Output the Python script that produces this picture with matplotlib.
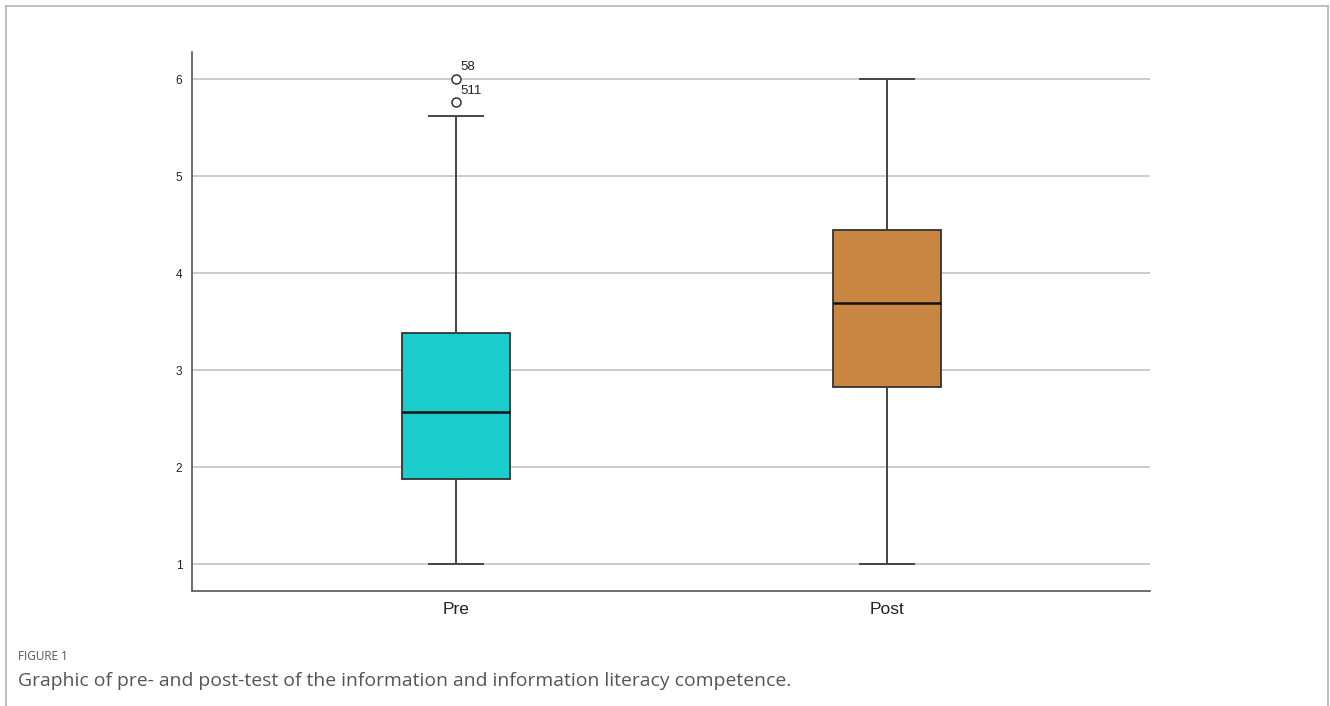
import matplotlib
matplotlib.use("Agg")
import matplotlib.pyplot as plt
from matplotlib.lines import Line2D

# -----------------------
# DATA
# -----------------------
groups = ["Pre", "Post"]
whisker_low = [1.0, 1.0]
q1 = [1.88, 2.82]
median = [2.57, 3.69]
q3 = [3.38, 4.44]
whisker_high = [5.62, 6.0]
outliers = [[6.0, 5.76], []]
outlier_ids = [["58", "511"], []]
box_colors = ["#1ccdcd", "#c98643"]

y_ticks = [1, 2, 3, 4, 5, 6]

# -----------------------
# FIGURE
# -----------------------
plt.rcParams["font.family"] = ["Liberation Sans", "DejaVu Sans"]
fig = plt.figure(figsize=(13.3, 7.06), dpi=100)
ax = fig.add_axes([0.1444, 0.1633, 0.7203, 0.763])

stats = []
for i, g in enumerate(groups):
    stats.append({
        "label": g,
        "whislo": whisker_low[i],
        "q1": q1[i],
        "med": median[i],
        "q3": q3[i],
        "whishi": whisker_high[i],
        "fliers": outliers[i],
    })

bp = ax.bxp(
    stats,
    positions=range(len(groups)),
    widths=0.25,
    patch_artist=True,
    showfliers=True,
    boxprops=dict(edgecolor="#333333", linewidth=1.3),
    medianprops=dict(color="#111111", linewidth=1.8),
    whiskerprops=dict(color="#444444", linewidth=1.4),
    capprops=dict(color="#444444", linewidth=1.4),
    capwidths=0.125,
    flierprops=dict(marker="o", markersize=6.5, markerfacecolor="white",
                    markeredgecolor="#333333", markeredgewidth=1.1),
    zorder=3,
)
for patch, c in zip(bp["boxes"], box_colors):
    patch.set_facecolor(c)

# outlier case labels
for i in range(len(groups)):
    for v, lab in zip(outliers[i], outlier_ids[i]):
        ax.annotate(lab, (i, v), xytext=(3, 4), textcoords="offset points",
                    fontsize=9.5, color="#222222", ha="left", va="bottom")

# -----------------------
# AXES STYLE
# -----------------------
ax.set_xlim(-0.6125, 1.61)
ax.set_ylim(0.725, 6.278)
ax.set_yticks(y_ticks)
ax.set_yticklabels([str(t) for t in y_ticks], fontsize=8.5, color="#222222")
ax.set_xticks(range(len(groups)))
ax.set_xticklabels(groups, fontsize=12.5, color="#222222")
ax.tick_params(axis="both", length=0)
ax.tick_params(axis="y", pad=7)
ax.tick_params(axis="x", pad=8)
ax.grid(axis="y", color="#c8c8c8", linewidth=1.3, zorder=0)
ax.set_axisbelow(True)
for s in ["top", "right"]:
    ax.spines[s].set_visible(False)
for s in ["left", "bottom"]:
    ax.spines[s].set_color("#555555")
    ax.spines[s].set_linewidth(1.2)

# -----------------------
# FRAME + CAPTION
# -----------------------
W, H = 1330, 706
fx = lambda px: px / W
fy = lambda py: 1 - py / H
frame = "#b4b4b4"
fig.add_artist(Line2D([fx(6), fx(1328)], [fy(6), fy(6)], color=frame, lw=1.2))
fig.add_artist(Line2D([fx(6), fx(6)], [fy(6), fy(706)], color=frame, lw=1.2))
fig.add_artist(Line2D([fx(1328), fx(1328)], [fy(6), fy(706)], color=frame, lw=1.2))

fig.text(fx(18), fy(657), "FIGURE 1", fontsize=8.5, color="#555555",
         family=["Open Sans", "DejaVu Sans"], va="center", ha="left")
fig.text(fx(18), fy(681),
         "Graphic of pre- and post-test of the information and information literacy competence.",
         fontsize=13.95, color="#555555", family=["Open Sans", "DejaVu Sans"],
         va="center", ha="left")

fig.savefig("out.png", dpi=100, facecolor="white")
